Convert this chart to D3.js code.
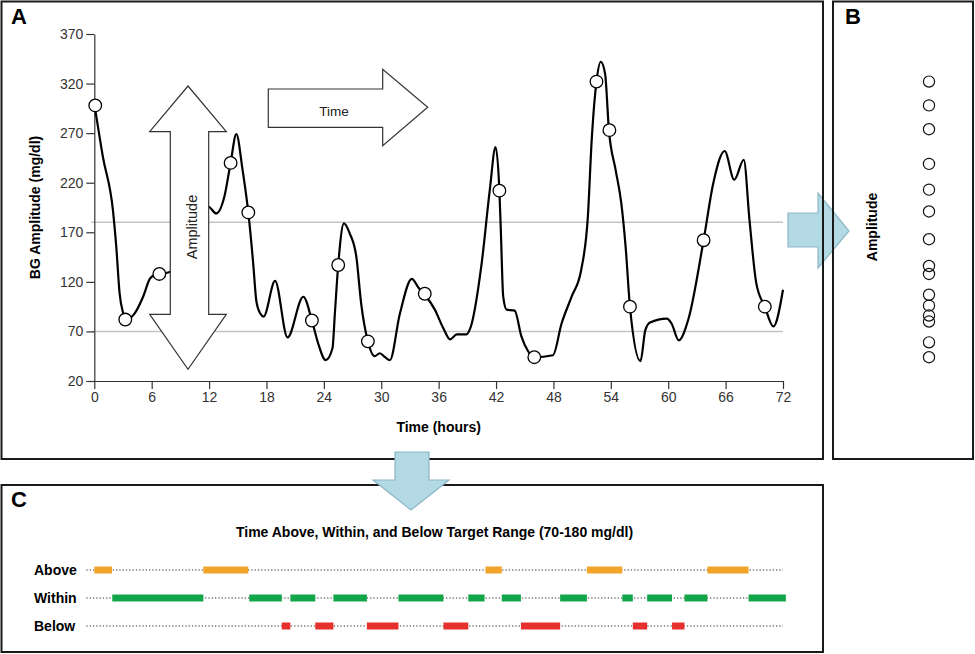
<!DOCTYPE html>
<html><head><meta charset="utf-8">
<script src="https://cdn.jsdelivr.net/npm/d3@7"></script>
<style>
body{margin:0;background:#fff}
svg{display:block;font-family:"Liberation Sans",Arial,Helvetica,sans-serif}
</style>
</head><body>
<svg id="chart" width="975" height="654"></svg>
<script>
// ---- Data ----
const curveHours  = [0, 0.9, 1.95, 2.3, 2.65, 3.0, 3.35, 4.2, 5.1, 5.8, 6.3, 6.8, 7.9, 9.0, 10.5, 11.9, 12.75, 13.6, 14.25, 14.85, 15.5, 16.1, 16.6, 16.95, 17.35, 17.7, 18.9, 20.2, 21.85, 22.75, 23.4, 24.2, 24.9, 25.15, 25.5, 26.1, 26.7, 27.4, 27.9, 28.6, 29.3, 29.85, 30.4, 30.9, 31.95, 33.2, 33.9, 34.55, 35.6, 36.5, 37.2, 37.9, 38.9, 39.3, 40.5, 41.35, 41.95, 42.35, 42.5, 42.75, 43.1, 43.95, 44.65, 45.35, 46.0, 47.95, 48.85, 49.9, 50.9, 51.6, 52.0, 52.5, 52.95, 53.4, 53.8, 54.5, 55.1, 55.55, 56.0, 57.1, 57.6, 58.1, 59.85, 60.35, 61.1, 62.1, 63.7, 64.7, 65.9, 66.9, 67.9, 68.5, 69.2, 70.1, 71.0, 72.0];
const curveValues = [300, 246, 192, 155, 108, 89, 82, 88, 105, 123, 127, 128, 130, 150, 185, 196, 189, 206, 240, 269, 233, 190, 140, 100, 88, 85, 121, 64, 105, 81, 58, 41, 53, 88, 137, 179, 169, 145, 98, 60, 45, 48, 44, 41, 88, 123, 114, 107, 92, 73, 62, 67, 67, 73, 139, 213, 256, 212, 172, 105, 92, 91, 65, 50, 44, 46, 78, 105, 132, 186, 263, 322, 342, 330, 273, 233, 199, 155, 95, 40, 71, 79, 83, 78, 61, 82, 162, 219, 252, 223, 243, 182, 119, 95, 75, 112];

const markerHours  = [0.1, 3.24, 6.8, 14.25, 16.1, 22.75, 25.5, 28.6, 34.55, 42.35, 46.0, 52.5, 53.85, 56.0, 63.7, 70.1];
const markerValues = [298, 82, 128, 240, 190, 81, 137, 60, 108, 212, 44, 322, 273, 95, 162, 95];

const amplitudeValues = [322, 298, 274, 239, 213, 191, 163, 136, 128, 107, 96, 86, 80, 59, 44];

const xTicks = [0, 6, 12, 18, 24, 30, 36, 42, 48, 54, 60, 66, 72];
const yTicks = [20, 70, 120, 170, 220, 270, 320, 370];
const targetRange = [70, 180];

const rowLabels = ["Above", "Within", "Below"];
const aboveStart  = [0, 11.4, 40.9, 51.5, 64.1];
const aboveEnd    = [1.85, 16.1, 42.6, 55.2, 68.4];
const withinStart = [1.88, 16.2, 20.5, 25.0, 31.8, 39.1, 42.6, 48.7, 55.2, 57.8, 61.7, 68.4];
const withinEnd   = [11.4, 19.6, 23.1, 28.5, 36.5, 40.8, 44.6, 51.5, 56.3, 60.4, 64.1, 72.3];
const belowStart  = [19.6, 23.1, 28.5, 36.5, 44.6, 56.3, 60.4];
const belowEnd    = [20.5, 25.0, 31.8, 39.1, 48.7, 57.8, 61.7];

// ---- Drawing ----
const svg = d3.select("#chart");
const x = d3.scaleLinear().domain([0, 72]).range([94.3, 783]);
const y = d3.scaleLinear().domain([20, 370]).range([381, 34]);

const blueFill = "#b3d9e5", blueStroke = "#8db7c6";

// Blue right arrow (A -> B), drawn under borders
svg.append("path")
  .attr("d", "M788,213 L818,213 L818,193 L849,231 L818,268 L818,247 L788,247 Z")
  .attr("fill", blueFill).attr("stroke", blueStroke).attr("stroke-width", 1.2);

// Panel frames
const frames = [[1.5, 1.5, 821.5, 457.5], [833, 1.5, 140, 457.5], [1.5, 485, 821.5, 167]];
svg.selectAll("rect.frame").data(frames).join("rect")
  .attr("class", "frame")
  .attr("x", d => d[0]).attr("y", d => d[1]).attr("width", d => d[2]).attr("height", d => d[3])
  .attr("fill", "none").attr("stroke", "#1a1a1a").attr("stroke-width", 2);

// Panel letters
svg.append("text").attr("x", 11).attr("y", 24).text("A").attr("font-size", 22).attr("font-weight", "bold");
svg.append("text").attr("x", 845).attr("y", 24).text("B").attr("font-size", 22).attr("font-weight", "bold");
svg.append("text").attr("x", 11).attr("y", 507).text("C").attr("font-size", 22).attr("font-weight", "bold");

// Target range lines
svg.selectAll("line.target").data(targetRange).join("line")
  .attr("class", "target")
  .attr("x1", x(0) - 3).attr("x2", x(72))
  .attr("y1", d => y(d)).attr("y2", d => y(d))
  .attr("stroke", "#c4c4c4").attr("stroke-width", 1.5);

// Axes
const yAxis = svg.append("g").attr("transform", `translate(${x(0)},0)`)
  .call(d3.axisLeft(y).tickValues(yTicks).tickSize(8).tickSizeOuter(0).tickPadding(3));
const xAxis = svg.append("g").attr("transform", `translate(0,${y(20)})`)
  .call(d3.axisBottom(x).tickValues(xTicks).tickSize(8).tickSizeOuter(0).tickPadding(3));
[yAxis, xAxis].forEach(g => {
  g.selectAll("path,line").attr("stroke", "#333").attr("stroke-width", 1.2);
  g.selectAll("text").attr("font-size", 14).attr("fill", "#333")
    .attr("font-family", "'Liberation Sans', Arial, sans-serif");
});

svg.append("text")
  .attr("transform", `translate(40,${(y(20) + y(370)) / 2}) rotate(-90)`)
  .attr("text-anchor", "middle").attr("font-size", 14).attr("font-weight", "bold")
  .text("BG Amplitude (mg/dl)");
svg.append("text")
  .attr("x", (x(0) + x(72)) / 2).attr("y", 432)
  .attr("text-anchor", "middle").attr("font-size", 14).attr("font-weight", "bold")
  .text("Time (hours)");

// Glucose curve
const curvePts = curveHours.map((h, i) => [h, curveValues[i]]);
svg.append("path")
  .datum(curvePts)
  .attr("d", d3.line().x(d => x(d[0])).y(d => y(d[1])).curve(d3.curveMonotoneX))
  .attr("fill", "none").attr("stroke", "#000").attr("stroke-width", 2.2)
  .attr("stroke-linejoin", "round");

// Amplitude double arrow (white, covers curve)
const ampG = svg.append("g");
ampG.append("path")
  .attr("d", "M188,86 L226.3,131.7 L208.7,131.7 L208.7,314.3 L226.3,314.3 L188,369.3 L149.7,314.3 L170.3,314.3 L170.3,131.7 L149.7,131.7 Z")
  .attr("fill", "#fff").attr("stroke", "#333").attr("stroke-width", 1.2);
ampG.append("text")
  .attr("transform", "translate(197,227) rotate(-90)")
  .attr("text-anchor", "middle").attr("font-size", 14.5).attr("fill", "#222")
  .text("Amplitude");

// Time arrow
svg.append("path")
  .attr("d", "M268.3,89 L382.7,89 L382.7,69.3 L427.7,107.3 L382.7,145.7 L382.7,127.3 L268.3,127.3 Z")
  .attr("fill", "#fff").attr("stroke", "#333").attr("stroke-width", 1.2);
svg.append("text").attr("x", 334).attr("y", 115.5)
  .attr("text-anchor", "middle").attr("font-size", 13.5).attr("fill", "#222").text("Time");

// Markers
const markers = markerHours.map((h, i) => [h, markerValues[i]]);
svg.selectAll("circle.mk").data(markers).join("circle")
  .attr("class", "mk")
  .attr("cx", d => x(d[0])).attr("cy", d => y(d[1])).attr("r", 6.3)
  .attr("fill", "#fff").attr("stroke", "#000").attr("stroke-width", 1.3);

// Panel B
svg.append("text")
  .attr("transform", "translate(877,227) rotate(-90)")
  .attr("text-anchor", "middle").attr("font-size", 14).attr("font-weight", "bold")
  .text("Amplitude");
svg.selectAll("circle.amp").data(amplitudeValues).join("circle")
  .attr("class", "amp")
  .attr("cx", 929).attr("cy", d => y(d)).attr("r", 5.6)
  .attr("fill", "none").attr("stroke", "#111").attr("stroke-width", 1.2);

// Blue down arrow (A -> C)
svg.append("path")
  .attr("d", "M395,452 L429,452 L429,480 L449,480 L411,510 L373,480 L395,480 Z")
  .attr("fill", blueFill).attr("stroke", blueStroke).attr("stroke-width", 1.2);

// Panel C
svg.append("text")
  .attr("x", 434.5).attr("y", 537)
  .attr("text-anchor", "middle").attr("font-size", 14).attr("font-weight", "bold")
  .text("Time Above, Within, and Below Target Range (70-180 mg/dl)");

const rowY = d3.scalePoint().domain(rowLabels).range([570, 626]);
const rows = [
  {label: "Above",  color: "#f2a42a", s: aboveStart,  e: aboveEnd},
  {label: "Within", color: "#12a64a", s: withinStart, e: withinEnd},
  {label: "Below",  color: "#e6302e", s: belowStart,  e: belowEnd}
];
const rowG = svg.selectAll("g.row").data(rows).join("g").attr("class", "row")
  .attr("transform", d => `translate(0,${rowY(d.label)})`);
rowG.append("text").attr("x", 34).attr("y", 0).attr("dy", "0.36em")
  .attr("font-size", 14).attr("font-weight", "bold").text(d => d.label);
rowG.append("line")
  .attr("x1", x(0) - 8).attr("x2", x(72)).attr("y1", 0).attr("y2", 0)
  .attr("stroke", "#333").attr("stroke-width", 1.2).attr("stroke-dasharray", "1.3,2");
rowG.selectAll("rect").data(d => d.s.map((s, i) => ({s, e: d.e[i], c: d.color}))).join("rect")
  .attr("x", d => x(d.s)).attr("width", d => x(d.e) - x(d.s))
  .attr("y", -3.5).attr("height", 7).attr("fill", d => d.c);
</script>
</body></html>
